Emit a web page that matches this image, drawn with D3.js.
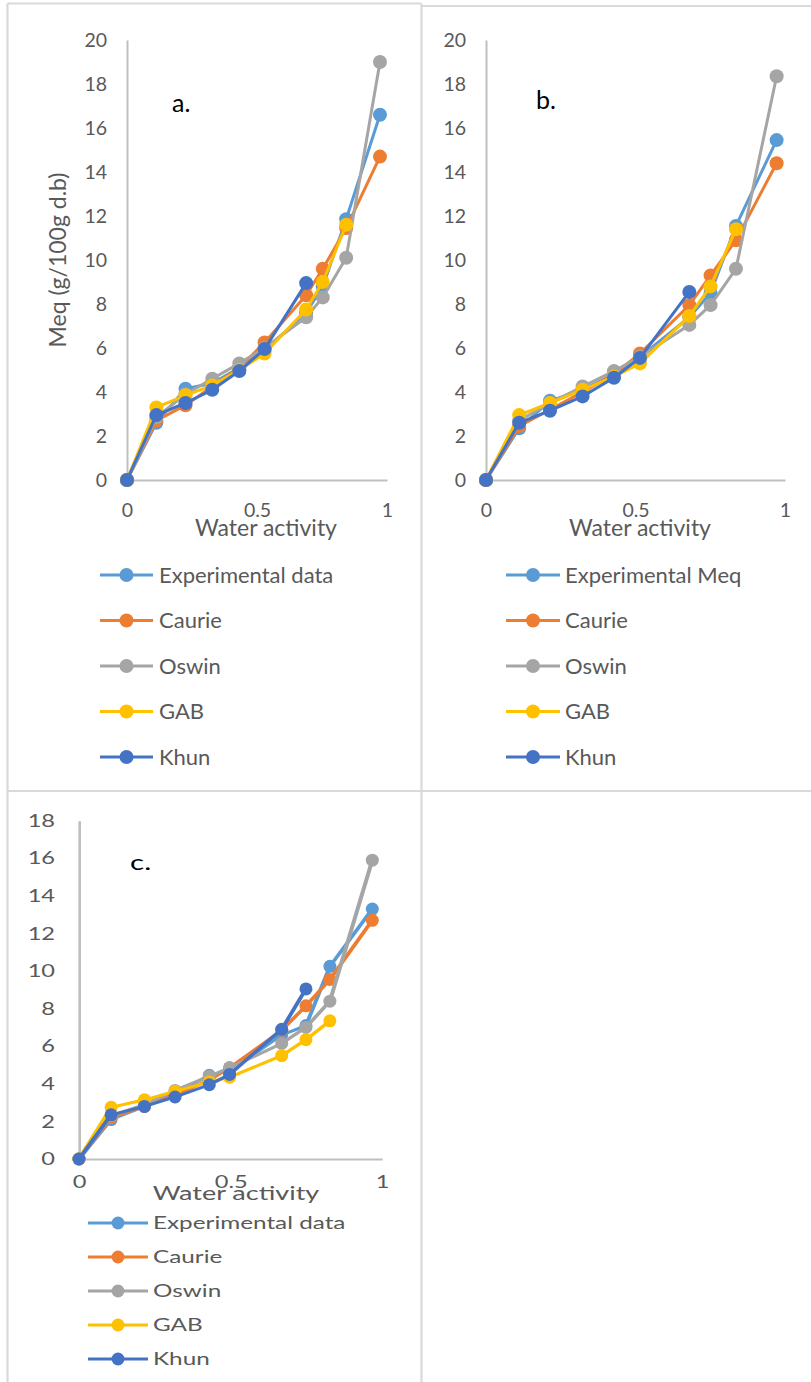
<!DOCTYPE html>
<html>
<head>
<meta charset="utf-8">
<script src="https://cdn.jsdelivr.net/npm/d3@7"></script>
<style>
  body { margin: 0; background: #fff; }
  svg { display: block; }
  text { font-family: Lato, "Open Sans", sans-serif; }
</style>
</head>
<body>
<svg id="chart" width="811" height="1382"></svg>
<script>
// ---- data -------------------------------------------------------------
const seriesNamesA = ["Experimental data", "Caurie", "Oswin", "GAB", "Khun"];
const seriesNamesB = ["Experimental Meq", "Caurie", "Oswin", "GAB", "Khun"];
const seriesNamesC = ["Experimental data", "Caurie", "Oswin", "GAB", "Khun"];
const seriesColors = ["#5B9BD5", "#ED7D31", "#A5A5A5", "#FFC000", "#4472C4"];

const xTicks = [0, 0.5, 1];
const yTicksAB = [0, 2, 4, 6, 8, 10, 12, 14, 16, 18, 20];
const yTicksC = [0, 2, 4, 6, 8, 10, 12, 14, 16, 18];

// panel a
const awA     = [0, 0.113, 0.225, 0.328, 0.432, 0.529, 0.689, 0.753, 0.843, 0.973];
const expA    = [0, 2.60, 4.15, 4.40, 5.10, 5.90, 7.60, 8.80, 11.85, 16.60];
const caurieA = [0, 2.70, 3.40, 4.25, 5.10, 6.25, 8.40, 9.60, 11.45, 14.70];
const oswinA  = [0, 2.85, 3.90, 4.60, 5.30, 6.00, 7.40, 8.30, 10.10, 19.00];
const gabA    = [0, 3.30, 3.85, 4.30, 5.00, 5.75, 7.75, 9.00, 11.60];
const khunA   = [0, 2.95, 3.50, 4.10, 4.95, 5.95, 8.95];

// panel b
const awB     = [0, 0.111, 0.214, 0.323, 0.428, 0.515, 0.680, 0.751, 0.836, 0.972];
const expB    = [0, 2.35, 3.60, 4.10, 4.80, 5.60, 7.40, 8.50, 11.55, 15.45];
const caurieB = [0, 2.45, 3.20, 4.00, 4.80, 5.75, 7.95, 9.30, 10.90, 14.40];
const oswinB  = [0, 2.70, 3.50, 4.25, 4.95, 5.60, 7.05, 7.95, 9.60, 18.35];
const gabB    = [0, 2.95, 3.50, 4.10, 4.70, 5.30, 7.45, 8.80, 11.40];
const khunB   = [0, 2.60, 3.15, 3.80, 4.65, 5.55, 8.55];

// panel c
const awC     = [0, 0.106, 0.216, 0.317, 0.430, 0.497, 0.669, 0.749, 0.828, 0.968];
const expC    = [0, 2.10, 2.80, 3.50, 4.45, 4.70, 6.60, 7.10, 10.25, 13.30];
const caurieC = [0, 2.20, 2.80, 3.40, 4.20, 4.85, 6.85, 8.15, 9.55, 12.70];
const oswinC  = [0, 2.30, 2.90, 3.65, 4.40, 4.85, 6.15, 7.00, 8.40, 15.90];
const gabC    = [0, 2.75, 3.15, 3.60, 4.10, 4.35, 5.50, 6.35, 7.35];
const khunC   = [0, 2.35, 2.80, 3.30, 3.95, 4.50, 6.90, 9.05];

// ---- drawing ----------------------------------------------------------
const svg = d3.select("#chart");
const GREY_TEXT = "#595959";
const AXIS = "#BFBFBF";
const FRAME = "#D9D9D9";

// frame lines separating the three charts
const frame = svg.append("g").attr("stroke", FRAME).attr("stroke-width", 2.2).attr("fill", "none");
[
  [7.5, 3.5, 7.5, 1382], [7.5, 3.5, 421.5, 3.5],
  [421.5, 3.5, 421.5, 1382], [421.5, 6, 811, 6],
  [7.5, 791, 811, 791]
].forEach(d => frame.append("line").attr("x1", d[0]).attr("y1", d[1]).attr("x2", d[2]).attr("y2", d[3]));

function drawPanel(p) {
  const sx = p.stretch || 1;
  // content is laid out in unstretched units, then stretched about the y axis
  const g = svg.append("g")
    .attr("transform", `translate(${p.x0},0) scale(${sx},1) translate(${-p.x0},0)`);
  const ix = X => p.x0 + (X - p.x0) / sx;

  const x = d3.scaleLinear().domain([0, 1]).range([p.x0, ix(p.x1)]);
  const y = d3.scaleLinear().domain([0, p.yMax]).range([p.yBottom, p.yTop]);

  // y axis
  const yAxis = g.append("g").attr("transform", `translate(${p.x0},0)`)
    .call(d3.axisLeft(y).tickValues(p.yTicks).tickSize(0).tickPadding(p.yPad / sx).tickFormat(d3.format("d")));
  yAxis.select(".domain").attr("stroke", AXIS).attr("stroke-width", 2);
  yAxis.selectAll("text").attr("fill", GREY_TEXT).attr("font-size", p.tickFont)
    .attr("font-family", "Lato, 'Open Sans', sans-serif");

  // x axis
  const xAxis = g.append("g").attr("transform", `translate(0,${p.yBottom})`)
    .call(d3.axisBottom(x).tickValues(xTicks).tickSize(0).tickPadding(p.xPad).tickFormat(d3.format("")));
  xAxis.select(".domain").attr("stroke", AXIS).attr("stroke-width", 2);
  xAxis.selectAll("text").attr("fill", GREY_TEXT).attr("font-size", p.tickFont)
    .attr("font-family", "Lato, 'Open Sans', sans-serif");

  // x title
  g.append("text").attr("x", ix(p.xTitleX)).attr("y", p.xTitleY)
    .attr("text-anchor", "middle").attr("fill", GREY_TEXT).attr("font-size", p.titleFont)
    .text("Water activity");

  // y title
  if (p.yTitle) {
    g.append("text")
      .attr("transform", `translate(${ix(p.yTitleX)},${p.yTitleY}) rotate(-90)`)
      .attr("text-anchor", "middle").attr("fill", GREY_TEXT).attr("font-size", p.yTitleFont)
      .text(p.yTitle);
  }

  // panel letter
  g.append("text").attr("x", ix(p.labelX)).attr("y", p.labelY)
    .attr("fill", "#000").attr("font-size", p.labelFont).text(p.label);

  // series: line then markers, drawn in legend order
  const line = d3.line().x(d => x(d[0])).y(d => y(d[1]));
  p.series.forEach((vals, i) => {
    const pts = vals.map((v, k) => [p.aw[k], v]);
    const sg = g.append("g");
    sg.append("path").datum(pts).attr("d", line)
      .attr("fill", "none").attr("stroke", seriesColors[i]).attr("stroke-width", 3)
      .attr("stroke-linejoin", "round");
    sg.selectAll("ellipse").data(pts).join("ellipse")
      .attr("cx", d => x(d[0])).attr("cy", d => y(d[1]))
      .attr("rx", p.markerR / sx).attr("ry", p.markerR)
      .attr("fill", seriesColors[i]);
  });

  // legend
  const lg = g.append("g");
  p.names.forEach((name, i) => {
    const yy = p.legendY0 + i * p.legendStep;
    lg.append("line").attr("x1", ix(p.legLine0)).attr("x2", ix(p.legLine1))
      .attr("y1", yy).attr("y2", yy).attr("stroke", seriesColors[i]).attr("stroke-width", 3);
    lg.append("ellipse").attr("cx", ix((p.legLine0 + p.legLine1) / 2)).attr("cy", yy)
      .attr("rx", p.markerR / sx).attr("ry", p.markerR).attr("fill", seriesColors[i]);
    lg.append("text").attr("x", ix(p.legText)).attr("y", yy).attr("dy", "0.35em")
      .attr("fill", GREY_TEXT).attr("font-size", p.legendFont).text(name);
  });
}

drawPanel({
  x0: 127, x1: 387, yBottom: 480, yTop: 40, yMax: 20, yTicks: yTicksAB,
  yPad: 20, xPad: 23, tickFont: 19.5, titleFont: 23,
  xTitleX: 266, xTitleY: 536,
  yTitle: "Meq (g/100g d.b)", yTitleX: 66, yTitleY: 260, yTitleFont: 23,
  label: "a.", labelX: 172, labelY: 112, labelFont: 25,
  aw: awA, series: [expA, caurieA, oswinA, gabA, khunA], markerR: 7,
  names: seriesNamesA, legendY0: 575, legendStep: 45.5,
  legLine0: 100, legLine1: 153, legText: 159, legendFont: 22
});

drawPanel({
  x0: 486, x1: 785, yBottom: 480, yTop: 40, yMax: 20, yTicks: yTicksAB,
  yPad: 20, xPad: 23, tickFont: 19.5, titleFont: 23,
  xTitleX: 640, xTitleY: 536,
  label: "b.", labelX: 536, labelY: 109, labelFont: 25,
  aw: awB, series: [expB, caurieB, oswinB, gabB, khunB], markerR: 7,
  names: seriesNamesB, legendY0: 575, legendStep: 45.5,
  legLine0: 506, legLine1: 560, legText: 565, legendFont: 22
});

drawPanel({
  x0: 79, x1: 382, yBottom: 1159, yTop: 820.7, yMax: 18, yTicks: yTicksC,
  yPad: 24, xPad: 17, tickFont: 17.5, titleFont: 20, stretch: 1.35,
  xTitleX: 236, xTitleY: 1200,
  label: "c.", labelX: 130, labelY: 870, labelFont: 22,
  aw: awC, series: [expC, caurieC, oswinC, gabC, khunC], markerR: 6.5,
  names: seriesNamesC, legendY0: 1223, legendStep: 34,
  legLine0: 88, legLine1: 148, legText: 153, legendFont: 18
});
</script>
</body>
</html>
